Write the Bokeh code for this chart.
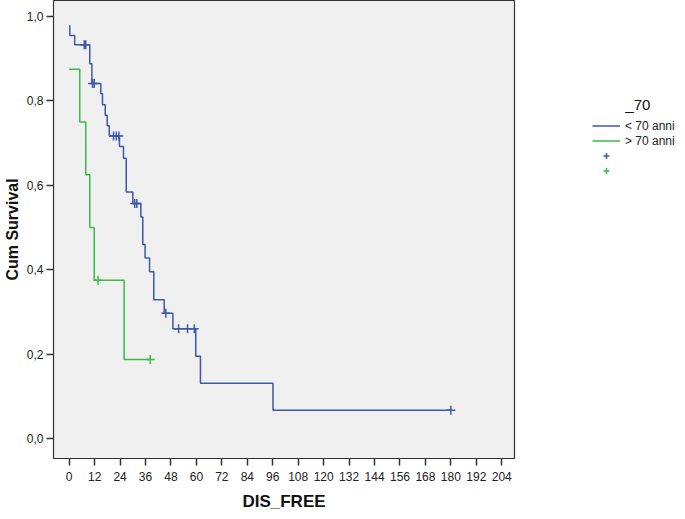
from bokeh.plotting import figure
from bokeh.models import Range1d, FixedTicker, Legend, LegendItem, CustomJSTickFormatter
from bokeh.embed import file_html
from bokeh.resources import INLINE

# Kaplan-Meier step data
blue_times = [0, 0.3, 2.6, 9.7, 10.7, 14.9, 15.7, 17.0, 17.9, 18.9, 23.7, 25.6, 26.9,
              30.0, 33.8, 34.7, 35.8, 37.9, 39.9, 44.8, 48.9, 59.7, 61.9, 96.1, 180]
blue_surv = [0.978, 0.955, 0.933, 0.888, 0.841, 0.817, 0.791, 0.766, 0.741, 0.717, 0.692,
             0.664, 0.584, 0.557, 0.525, 0.460, 0.428, 0.395, 0.329, 0.297, 0.260, 0.195,
             0.131, 0.067, 0.067]
blue_cens_t = [7.1, 7.8, 11.0, 11.8, 20.9, 22.2, 23.4, 30.9, 31.9, 45.6, 51.6, 55.8, 59.0, 180]
blue_cens_s = [0.933, 0.933, 0.841, 0.841, 0.717, 0.717, 0.717, 0.557, 0.557, 0.297,
               0.260, 0.260, 0.260, 0.067]

green_times = [0, 5.0, 7.8, 9.7, 11.8, 25.9, 38.2]
green_surv = [0.875, 0.75, 0.625, 0.5, 0.375, 0.1875, 0.1875]
green_cens_t = [13.6, 38.2]
green_cens_s = [0.375, 0.1875]

x_ticks = list(range(0, 205, 12))
y_ticks = [0.0, 0.2, 0.4, 0.6, 0.8, 1.0]
group_labels = ["< 70 anni", "> 70 anni"]
legend_title = "_70"

BLUE = "#3E58AC"
GREEN = "#3DB84A"
FONT = "Liberation Sans"

p = figure(frame_width=461, frame_height=458,
           x_range=Range1d(-7.4, 210), y_range=Range1d(-0.047, 1.0376),
           output_backend="svg", toolbar_location=None,
           min_border_left=48, min_border_top=0, min_border_right=160, min_border_bottom=0)

p.background_fill_color = "#F0F0F0"
p.border_fill_color = "white"
p.outline_line_color = "#333333"
p.outline_line_width = 1.2
p.xgrid.visible = False
p.ygrid.visible = False

b_step = p.step(blue_times, blue_surv, mode="after", line_color=BLUE, line_width=1.5)
g_step = p.step(green_times, green_surv, mode="after", line_color=GREEN, line_width=1.5)
b_cens = p.scatter(blue_cens_t, blue_cens_s, marker="cross", size=9, line_color=BLUE, line_width=1.5)
g_cens = p.scatter(green_cens_t, green_cens_s, marker="cross", size=9, line_color=GREEN, line_width=1.5)

for ax in (p.xaxis[0], p.yaxis[0]):
    ax.axis_line_color = None
    ax.major_tick_out = 7
    ax.major_tick_in = 0
    ax.minor_tick_line_color = None
    ax.major_tick_line_color = "#333333"
    ax.major_tick_line_width = 1.5
    ax.major_label_text_font = FONT
    ax.major_label_text_font_size = "12px"
    ax.major_label_text_color = "#222222"
    ax.axis_label_text_font = FONT
    ax.axis_label_text_font_style = "bold"
    ax.axis_label_text_color = "#111111"
    ax.major_label_standoff = 3

p.xaxis[0].ticker = FixedTicker(ticks=x_ticks)
p.yaxis[0].ticker = FixedTicker(ticks=y_ticks)
p.yaxis[0].formatter = CustomJSTickFormatter(code="return tick.toFixed(1).replace('.', ',');")
p.xaxis[0].axis_label = "DIS_FREE"
p.yaxis[0].axis_label = "Cum Survival"
p.xaxis[0].axis_label_text_font_size = "17px"
p.yaxis[0].axis_label_text_font_size = "16px"
p.xaxis[0].major_label_standoff = 6
p.xaxis[0].axis_label_standoff = 8
p.yaxis[0].axis_label_standoff = 3

legend = Legend(items=[
    LegendItem(label=group_labels[0], renderers=[b_step]),
    LegendItem(label=group_labels[1], renderers=[g_step]),
    LegendItem(label=" ", renderers=[b_cens]),
    LegendItem(label=" ", renderers=[g_cens]),
], location=(78, 280))
legend.title = "\u00a0" * 8 + legend_title
legend.title_text_font = FONT
legend.title_text_font_size = "15px"
legend.title_text_font_style = "normal"
legend.title_text_color = "#111111"
legend.title_standoff = 5
legend.glyph_width = 28
legend.glyph_height = 15
legend.label_height = 15
legend.label_standoff = 5
legend.spacing = 0
legend.padding = 0
legend.margin = 0
legend.border_line_color = None
legend.background_fill_alpha = 0
legend.label_text_font = FONT
legend.label_text_font_size = "12px"
legend.label_text_color = "#222222"
p.add_layout(legend, "right")

open("out.html", "w").write(file_html(p, INLINE))
